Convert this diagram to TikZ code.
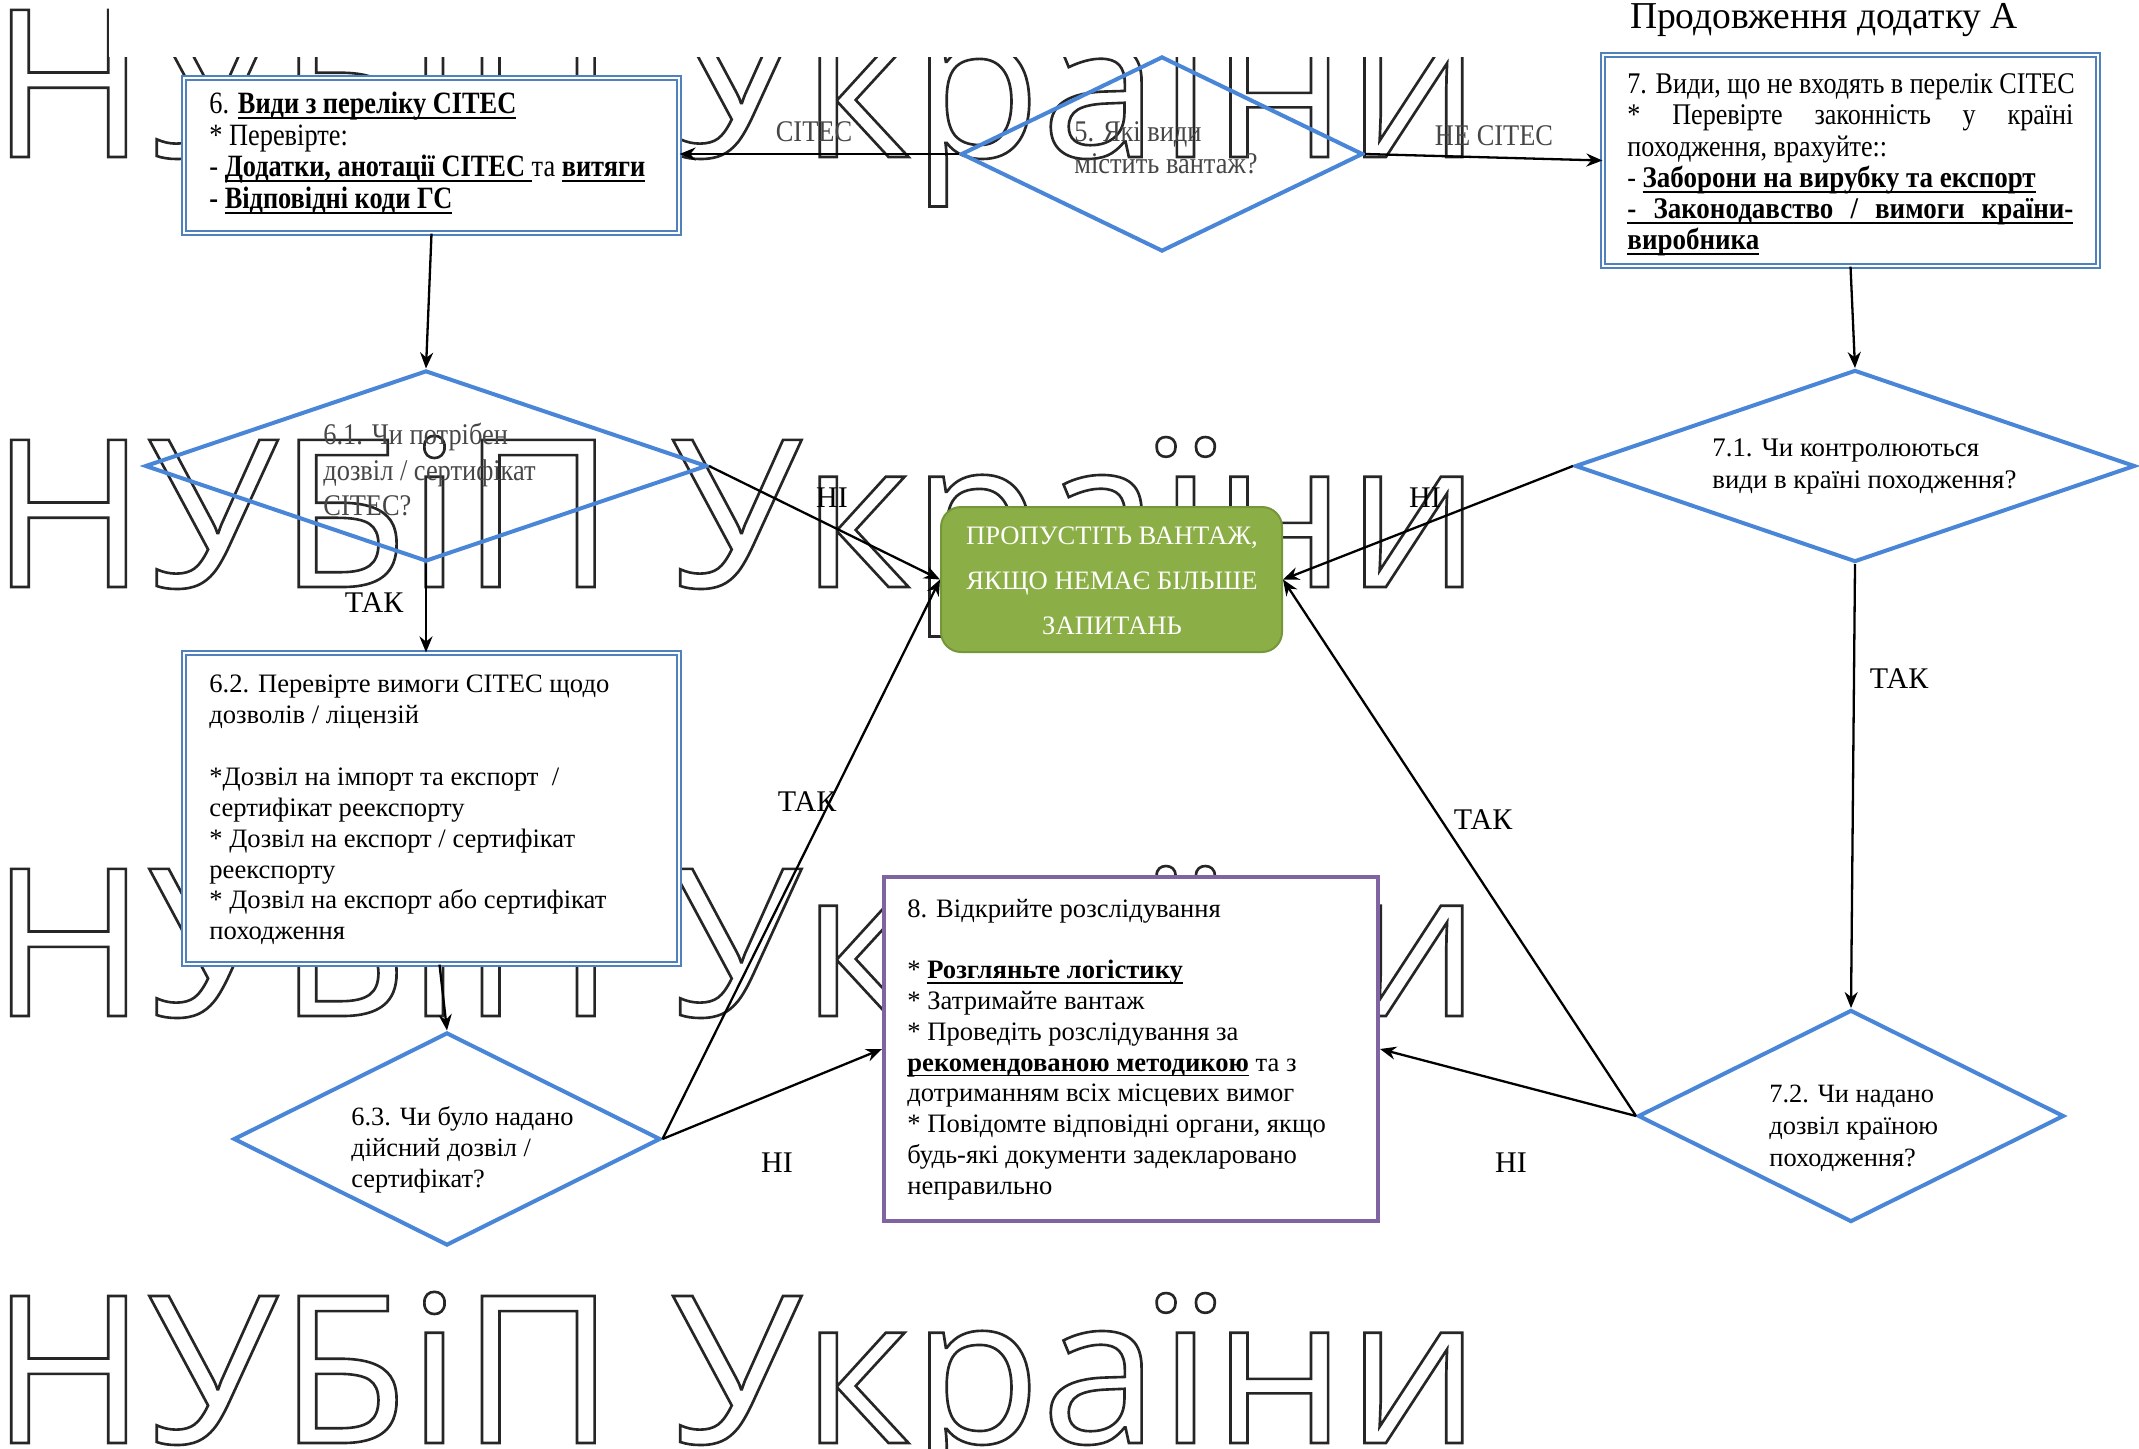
\documentclass[tikz,border=0pt]{standalone}
\usepackage{fontspec}
\setmainfont{Liberation Serif}
\newfontfamily\cond{Liberation Serif}[FakeStretch=0.87]
\newfontfamily\condb{Liberation Serif}[FakeStretch=0.9]
\newfontfamily\condw{Liberation Serif}[FakeStretch=0.85]
\newfontfamily\condg{Liberation Serif}[FakeStretch=0.88]
\newfontfamily\wmfont{Open Sans}
\newsavebox\ulbox
\newcommand{\uln}[1]{\sbox\ulbox{#1}\rlap{\rule[-2.6pt]{\wd\ulbox}{0.9pt}}\usebox\ulbox}
\newcommand{\ub}[1]{\uln{\textbf{#1}}}
\usetikzlibrary{shapes.geometric,arrows.meta,calc}
\definecolor{diablue}{RGB}{74,134,216}
\definecolor{boxblue}{RGB}{79,129,189}
\definecolor{purp}{RGB}{128,100,162}
\definecolor{grfill}{RGB}{139,175,70}
\definecolor{grline}{RGB}{118,150,58}
\definecolor{ltext}{RGB}{70,70,70}
\newcommand{\wmtext}{\resizebox{745pt}{\height}{\wmfont\fontsize{103}{110}\selectfont\special{pdf:literal direct 1 Tr 1.3 w}НУБіП України\special{pdf:literal direct 0 Tr}}}
\begin{document}
\begin{tikzpicture}[x=0.5pt,y=-0.5pt,
  dia/.style={draw=diablue, line width=2pt, shape=diamond, inner sep=0pt},
  box/.style={draw=boxblue, double=white, double distance=1.4pt, line width=0.6pt, fill=white, inner sep=0pt},
  arr/.style={-{Stealth[length=8pt,width=6.5pt]}, line width=1.15pt},
  txt/.style={anchor=west, align=left, inner sep=0pt},
  lab/.style={inner sep=0pt, font=\fontsize{15}{17}\selectfont},
  wm/.style={inner sep=0pt, anchor=base west, text=black!85}]
\useasboundingbox (0,0) rectangle (2139,1449);
\fill[white] (0,0) rectangle (2139,1449);
% watermark
\foreach \i/\yy in {1/157,2/587,3/1016,4/1443}
  \node[wm] (wm\i) at (-10,\yy) {\wmtext};
\fill[white] (109,0) rectangle (2139,57);
\node[font=\fontsize{19}{22}\selectfont, inner sep=0pt, anchor=base] (title) at (1824,29) {\resizebox{194pt}{\height}{Продовження додатку А}};
% diamonds
\node[dia, minimum width=201pt, minimum height=97.5pt] (d5) at (1162,154) {};
\node[dia, minimum width=281pt, minimum height=95.5pt] (d61) at (426,466) {};
\node[dia, minimum width=280pt, minimum height=96pt] (d71) at (1855,466) {};
\node[dia, minimum width=213.5pt, minimum height=106.5pt] (d63) at (447,1139) {};
\node[dia, minimum width=213pt, minimum height=106pt] (d72) at (1851,1116) {};
% boxes
\node[box, minimum width=247.5pt, minimum height=77.5pt] (b6) at (431.5,155.5) {};
\node[box, minimum width=247.5pt, minimum height=105.5pt] (b7) at (1850.5,160.5) {};
\node[box, minimum width=247.5pt, minimum height=155.5pt] (b62) at (431.5,808.5) {};
\node[draw=purp, line width=2pt, fill=white, inner sep=0pt, minimum width=247pt, minimum height=172pt] (b8) at (1131,1049) {};
\node[fill=grfill, draw=grline, line width=1pt, rounded corners=10pt, inner sep=0pt, minimum width=170.5pt, minimum height=72.5pt] (gr) at (1111.5,579.5) {};
% box texts
\node[txt, font=\condw\fontsize{15.5}{15.75}\selectfont] (t6) at (209,153) {6. \ub{Види з переліку СІТЕС}\\ * Перевірте:\\ - \ub{Додатки, анотації СІТЕС\ }та \ub{витяги}\\ \textbf{- \uln{Відповідні коди ГС}}};
\node[txt, font=\cond\fontsize{15}{15.6}\selectfont] (t7) at (1627,165) {7. Види, що не входять в перелік СІТЕС\\ \makebox[223pt][s]{* Перевірте законність у країні}\\ походження, врахуйте::\\ - {\condb\ub{Заборони на вирубку та експорт}}\\ \rlap{\rule[-2.6pt]{223pt}{0.9pt}}\makebox[223pt][s]{\condb\bfseries - Законодавство / вимоги країни-}\\ {\condb\ub{виробника}}};
\node[txt, font=\fontsize{13.3}{15.45}\selectfont] (t62) at (209,810) {6.2. Перевірте вимоги СІТЕС щодо\\ дозволів / ліцензій\\[15.45pt] *Дозвіл на імпорт та експорт~~/\\ сертифікат реекспорту\\ * Дозвіл на експорт / сертифікат\\ реекспорту\\ * Дозвіл на експорт або сертифікат\\ походження};
\node[txt, font=\fontsize{13.3}{15.4}\selectfont] (t8) at (907,1049.5) {8. Відкрийте розслідування\\[15.4pt] * \ub{Розгляньте логістику}\\ * Затримайте вантаж\\ * Проведіть розслідування за\\ \ub{рекомендованою методикою} та з\\ дотриманням всіх місцевих вимог\\ * Повідомте відповідні органи, якщо\\ будь-які документи задекларовано\\ неправильно};
% diamond texts
\node[txt, text=ltext, font=\condg\fontsize{15}{16}\selectfont] (t5) at (1074,148) {5. Які види\\ містить вантаж?};
\node[txt, text=ltext, font=\condg\fontsize{15}{17.75}\selectfont] (t61) at (323,469.5) {6.1. Чи потрібен\\ дозвіл / сертифікат\\ СІТЕС?};
\node[txt, font=\fontsize{13.4}{16}\selectfont] (t71) at (1712,467) {7.1. Чи контролюються\\ види в країні походження?};
\node[txt, font=\fontsize{13.2}{15.5}\selectfont] (t63) at (351,1150) {6.3. Чи було надано\\ дійсний дозвіл /\\ сертифікат?};
\node[txt, font=\fontsize{13.2}{16}\selectfont] (t72) at (1769,1128) {7.2. Чи надано\\ дозвіл країною\\ походження?};
\node[align=center, inner sep=0pt, text=white, font=\fontsize{13.3}{22.5}\selectfont] (tg) at (1112,581) {ПРОПУСТІТЬ ВАНТАЖ,\\ ЯКЩО НЕМАЄ БІЛЬШЕ\\ ЗАПИТАНЬ};
% connectors
\draw[arr] (d5.west) -- (d5.west -| b6.east);
\draw[arr] (d5.east) -- (b7.west);
\draw[arr] (b6.south) -- (d61.north);
\draw[arr] (b7.south) -- (d71.north);
\draw[arr] (d61.east) -- (gr.west);
\draw[arr] (d71.west) -- (gr.east);
\draw[arr] (d61.south) -- (d61.south |- b62.north);
\draw[arr] ([xshift=4pt]b62.south) -- (d63.north);
\draw[arr] (d63.east) -- (gr.west);
\draw[arr] (d63.east) -- (b8.west);
\draw[arr] (d71.south) -- (d72.north);
\draw[arr] (d72.west) -- (gr.east);
\draw[arr] (d72.west) -- (b8.east);
% labels
\node[lab, text=ltext, font=\condg\fontsize{15}{16}\selectfont] (lc) at (814,132) {СІТЕС};
\node[lab, text=ltext, font=\condg\fontsize{15}{16}\selectfont] (lnc) at (1494,136) {НЕ СІТЕС};
\node[lab] (n1) at (832,498) {НІ};
\node[lab] (n2) at (1425,498) {НІ};
\node[lab] (y1) at (374,603) {ТАК};
\node[lab] (y2) at (1899,679) {ТАК};
\node[lab] (y3) at (807,802) {ТАК};
\node[lab] (y4) at (1483,820) {ТАК};
\node[lab] (n3) at (777,1163) {НІ};
\node[lab] (n4) at (1511,1163) {НІ};
\end{tikzpicture}
\end{document}
